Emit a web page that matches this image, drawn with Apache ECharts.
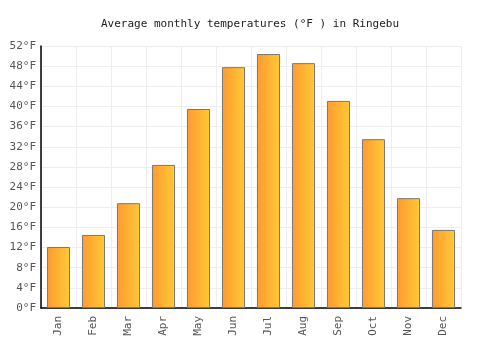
<!DOCTYPE html>
<html><head><meta charset="utf-8">
<script src="https://cdn.jsdelivr.net/npm/echarts@6/dist/echarts.min.js"></script>
<style>html,body{margin:0;padding:0;background:#fff}#c{width:500px;height:350px}</style>
</head><body><div id="c"></div>
<script>
const categories = ['Jan','Feb','Mar','Apr','May','Jun','Jul','Aug','Sep','Oct','Nov','Dec'];
const temps = [12.1, 14.5, 20.8, 28.4, 39.5, 47.8, 50.4, 48.6, 41.1, 33.5, 21.8, 15.5];
const titleText = 'Average monthly temperatures (°F ) in Ringebu';
const font = '"DejaVu Sans Mono", monospace';
const chart = echarts.init(document.getElementById('c'));
chart.setOption({
  animation: false,
  title: { text: titleText, left: 'center', top: 14,
    textStyle: { fontFamily: font, fontSize: 11, fontWeight: 'normal', color: '#222' } },
  grid: { left: 41, right: 39, top: 46, bottom: 42 },
  xAxis: { type: 'category', data: categories, boundaryGap: true,
    axisLine: { lineStyle: { color: '#000', width: 1.5 } },
    axisTick: { show: false },
    splitLine: { show: true, interval: 0, lineStyle: { color: '#eee' } },
    axisLabel: { rotate: 90, interval: 0, fontFamily: font, fontSize: 11, color: '#555', margin: 8 } },
  yAxis: { type: 'value', min: 0, max: 52, interval: 4,
    axisLine: { show: true, lineStyle: { color: '#000', width: 1.5 } },
    axisTick: { show: false },
    splitLine: { lineStyle: { color: '#eee' } },
    axisLabel: { formatter: '{value}°F', fontFamily: font, fontSize: 11, color: '#555', margin: 5 } },
  series: [{ type: 'bar', data: temps, barWidth: '66%',
    itemStyle: { borderColor: '#777', borderWidth: 1,
      color: new echarts.graphic.LinearGradient(0, 0, 1, 0, [
        { offset: 0, color: '#ff9a30' }, { offset: 1, color: '#ffca35' }]) } }]
});
</script></body></html>
